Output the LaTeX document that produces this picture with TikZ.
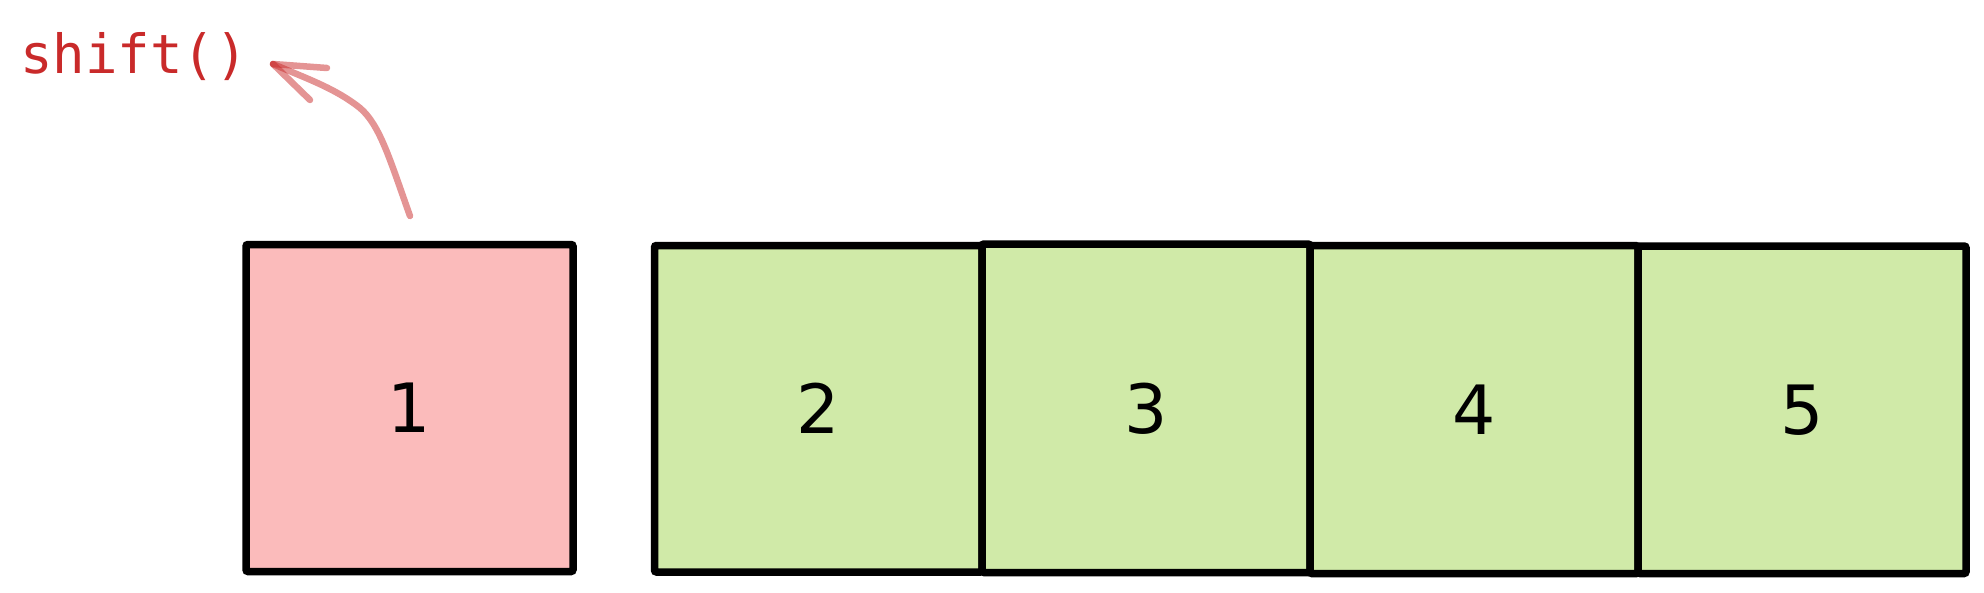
\documentclass[tikz,border=0pt]{standalone}
\usepackage{fontspec}
\setmainfont{DejaVu Sans}
\newfontfamily\codefont{DejaVu Sans Mono}
\definecolor{boxpink}{HTML}{FBBBBB}
\definecolor{boxgreen}{HTML}{D0EAA8}
\definecolor{codered}{HTML}{C92A2A}
\tikzset{
  cell/.style={draw=black, line width=3.75pt, rounded corners=1pt, inner sep=0pt,
    font=\fontsize{34pt}{40pt}\selectfont},
  pinkcell/.style={cell, fill=boxpink},
  greencell/.style={cell, fill=boxgreen},
  curvearrow/.style={draw=codered, draw opacity=0.5, line width=3.25pt, line cap=round, line join=round},
}
\begin{document}
\begin{tikzpicture}[x=0.5pt, y=-0.5pt]
\useasboundingbox (0,0) rectangle (1984,593);
\node[pinkcell, minimum width=163.5pt, minimum height=163.5pt] (c1) at (409.5,408) {1};
\node[greencell, minimum width=163.75pt, minimum height=163.25pt] (c2) at (818.25,408.75) {2};
\node[greencell, minimum width=164pt, minimum height=164.25pt] (c3) at (1146,408.25) {3};
\node[greencell, minimum width=164pt, minimum height=164pt] (c4) at (1474,409.6) {4};
\node[greencell, minimum width=164pt, minimum height=163.75pt] (c5) at (1802,409.75) {5};
\node[anchor=base west, inner sep=0pt, text=codered, font=\codefont\fontsize{27pt}{32pt}\selectfont] (call) at (20,74) {shift()};
\coordinate (tail) at (410,216);
\coordinate (tip) at (273,64);
\coordinate (barbA) at (327,68);
\coordinate (barbB) at (310,100);
\path[curvearrow] (tail) .. controls (390,160) and (380,125) .. (360,108) .. controls (335,88) and (305,78) .. (tip);
\path[curvearrow] (tip) -- (barbA);
\path[curvearrow] (tip) -- (barbB);
\end{tikzpicture}
\end{document}
